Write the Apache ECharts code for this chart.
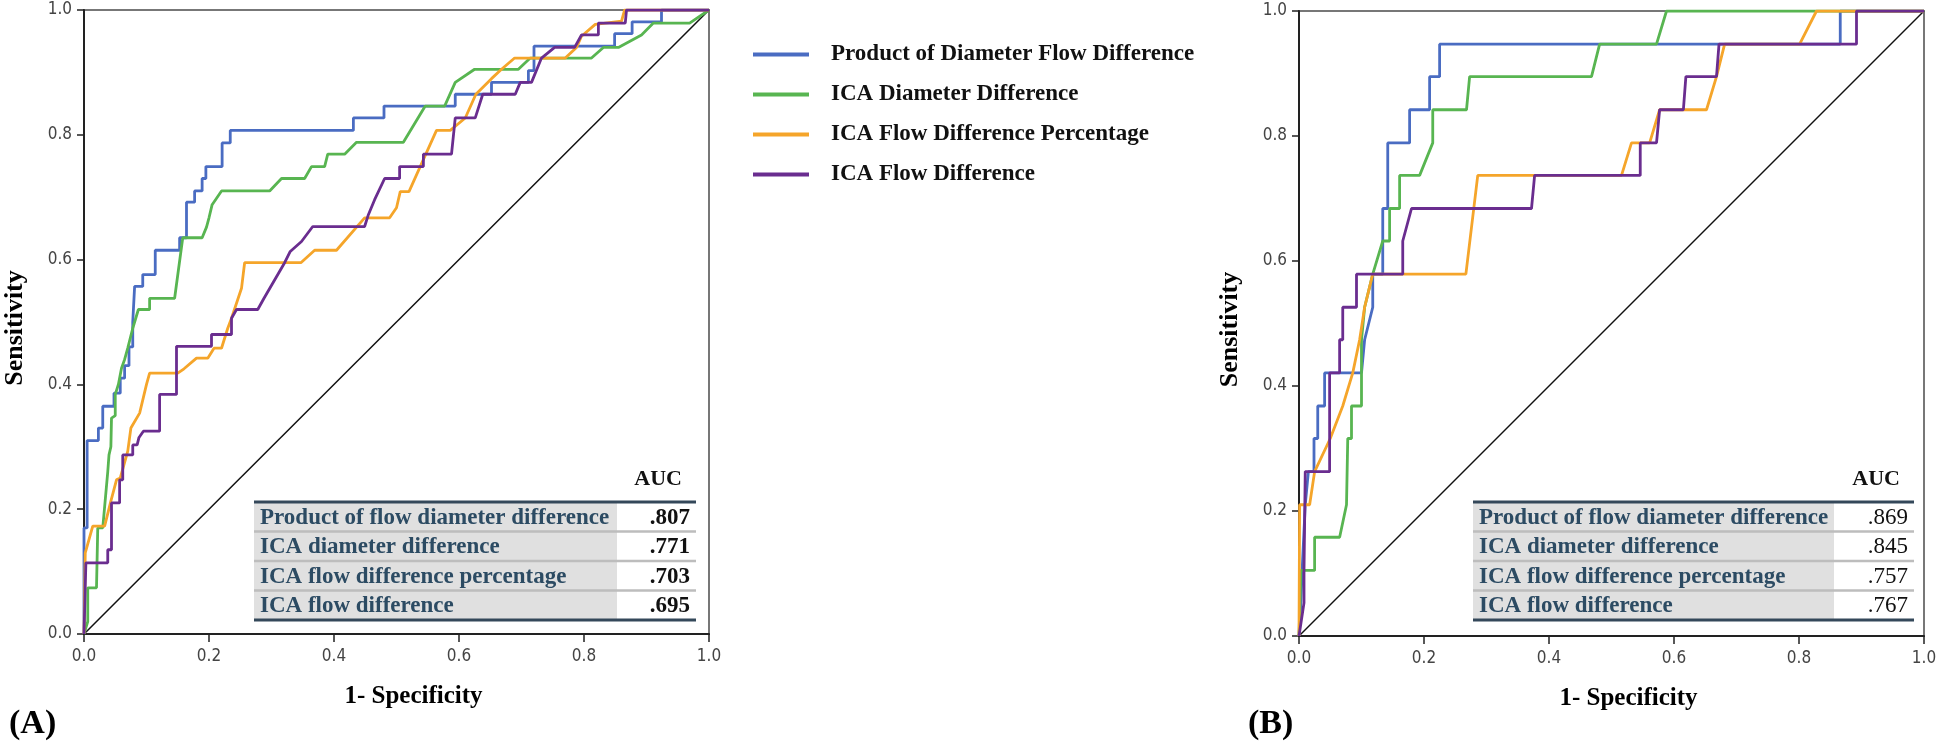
<!DOCTYPE html>
<html>
<head>
<meta charset="utf-8">
<script src="https://cdn.jsdelivr.net/npm/echarts@6/dist/echarts.min.js"></script>
<style>
html,body{margin:0;padding:0;background:#fff;}
#chart{width:1946px;height:751px;}
</style>
</head>
<body>
<div id="chart"></div>
<script>
// ---------- DATA ----------
const seriesNames = [
  'Product of Diameter Flow Difference',
  'ICA Diameter Difference',
  'ICA Flow Difference Percentage',
  'ICA Flow Difference'
];
const xTicks = [0, 0.2, 0.4, 0.6, 0.8, 1.0];

// Panel A (x = 1-specificity, y = sensitivity)
const blueA = [[0,0],[0,0.17],[0.005,0.17],[0.005,0.31],[0.023,0.31],[0.023,0.33],[0.03,0.33],[0.03,0.365],[0.048,0.365],[0.048,0.386],[0.058,0.386],[0.058,0.41],[0.065,0.41],[0.065,0.43],[0.072,0.43],[0.072,0.46],[0.078,0.46],[0.078,0.5],[0.081,0.5],[0.081,0.557],[0.094,0.557],[0.094,0.576],[0.114,0.576],[0.114,0.615],[0.153,0.615],[0.153,0.635],[0.164,0.635],[0.164,0.692],[0.177,0.692],[0.177,0.71],[0.189,0.71],[0.189,0.73],[0.195,0.73],[0.195,0.749],[0.221,0.749],[0.221,0.787],[0.234,0.787],[0.234,0.807],[0.431,0.807],[0.431,0.827],[0.48,0.827],[0.48,0.846],[0.594,0.846],[0.594,0.865],[0.652,0.865],[0.652,0.884],[0.711,0.884],[0.711,0.903],[0.72,0.903],[0.72,0.942],[0.849,0.942],[0.849,0.962],[0.877,0.962],[0.877,0.981],[0.924,0.981],[0.924,1],[1,1]];
const greenA = [[0,0],[0.006,0.02],[0.006,0.074],[0.02,0.074],[0.022,0.17],[0.03,0.17],[0.038,0.26],[0.04,0.287],[0.043,0.3],[0.044,0.346],[0.05,0.35],[0.05,0.384],[0.055,0.4],[0.06,0.426],[0.065,0.44],[0.07,0.458],[0.078,0.49],[0.087,0.52],[0.105,0.52],[0.105,0.538],[0.145,0.538],[0.158,0.635],[0.189,0.635],[0.196,0.652],[0.2,0.667],[0.205,0.688],[0.22,0.71],[0.297,0.71],[0.316,0.73],[0.353,0.73],[0.364,0.749],[0.385,0.749],[0.39,0.769],[0.417,0.769],[0.436,0.788],[0.511,0.788],[0.546,0.846],[0.577,0.846],[0.594,0.884],[0.625,0.905],[0.695,0.905],[0.714,0.923],[0.812,0.923],[0.831,0.94],[0.855,0.94],[0.892,0.96],[0.911,0.979],[0.969,0.979],[1,1]];
const orangeA = [[0,0],[0.002,0.13],[0.014,0.173],[0.033,0.173],[0.043,0.213],[0.052,0.247],[0.058,0.25],[0.07,0.293],[0.075,0.33],[0.089,0.354],[0.1,0.4],[0.105,0.418],[0.15,0.418],[0.16,0.425],[0.18,0.442],[0.198,0.442],[0.208,0.458],[0.22,0.458],[0.23,0.49],[0.236,0.506],[0.252,0.554],[0.257,0.595],[0.347,0.595],[0.369,0.615],[0.404,0.615],[0.449,0.667],[0.489,0.667],[0.5,0.683],[0.506,0.709],[0.52,0.709],[0.546,0.767],[0.564,0.807],[0.586,0.807],[0.61,0.827],[0.627,0.865],[0.652,0.89],[0.668,0.905],[0.689,0.923],[0.77,0.923],[0.788,0.94],[0.796,0.958],[0.818,0.977],[0.86,0.982],[0.865,1],[1,1]];
const purpleA = [[0,0],[0.003,0.114],[0.038,0.114],[0.038,0.135],[0.044,0.135],[0.044,0.21],[0.057,0.21],[0.057,0.247],[0.062,0.247],[0.062,0.287],[0.078,0.287],[0.078,0.303],[0.085,0.303],[0.088,0.315],[0.095,0.325],[0.121,0.325],[0.121,0.384],[0.148,0.384],[0.148,0.461],[0.204,0.461],[0.204,0.48],[0.236,0.48],[0.236,0.506],[0.244,0.52],[0.278,0.52],[0.288,0.538],[0.321,0.595],[0.33,0.613],[0.348,0.629],[0.366,0.653],[0.449,0.653],[0.455,0.672],[0.465,0.696],[0.481,0.73],[0.505,0.73],[0.505,0.749],[0.543,0.749],[0.543,0.769],[0.588,0.769],[0.594,0.827],[0.626,0.827],[0.638,0.865],[0.69,0.865],[0.698,0.884],[0.716,0.884],[0.732,0.923],[0.753,0.94],[0.785,0.94],[0.796,0.96],[0.823,0.96],[0.823,0.979],[0.866,0.979],[0.868,1],[1,1]];

// Panel B
const blueB = [[0,0],[0.003,0.053],[0.005,0.105],[0.01,0.21],[0.015,0.263],[0.024,0.263],[0.024,0.316],[0.03,0.316],[0.03,0.368],[0.041,0.368],[0.041,0.421],[0.1,0.421],[0.105,0.474],[0.118,0.526],[0.118,0.579],[0.134,0.579],[0.134,0.684],[0.142,0.684],[0.142,0.789],[0.177,0.789],[0.177,0.842],[0.209,0.842],[0.209,0.895],[0.225,0.895],[0.225,0.947],[0.866,0.947],[0.866,1],[1,1]];
const greenB = [[0,0],[0.003,0.105],[0.025,0.105],[0.025,0.158],[0.065,0.158],[0.076,0.21],[0.078,0.21],[0.078,0.316],[0.084,0.316],[0.084,0.368],[0.1,0.368],[0.1,0.474],[0.105,0.526],[0.118,0.579],[0.134,0.632],[0.145,0.632],[0.145,0.684],[0.161,0.684],[0.161,0.737],[0.193,0.737],[0.214,0.789],[0.214,0.842],[0.268,0.842],[0.273,0.895],[0.468,0.895],[0.481,0.947],[0.572,0.947],[0.588,1],[1,1]];
const orangeB = [[0,0],[0.001,0.21],[0.017,0.21],[0.025,0.263],[0.05,0.316],[0.07,0.368],[0.086,0.421],[0.097,0.474],[0.105,0.526],[0.118,0.579],[0.267,0.579],[0.286,0.737],[0.516,0.737],[0.532,0.789],[0.561,0.789],[0.577,0.842],[0.652,0.842],[0.668,0.895],[0.681,0.947],[0.801,0.947],[0.828,1],[1,1]];
const purpleB = [[0,0],[0.008,0.053],[0.008,0.105],[0.01,0.263],[0.049,0.263],[0.049,0.421],[0.065,0.421],[0.065,0.474],[0.07,0.474],[0.07,0.526],[0.092,0.526],[0.092,0.579],[0.166,0.579],[0.166,0.632],[0.18,0.684],[0.372,0.684],[0.377,0.737],[0.546,0.737],[0.546,0.789],[0.572,0.789],[0.577,0.842],[0.615,0.842],[0.619,0.895],[0.668,0.895],[0.672,0.947],[0.892,0.947],[0.892,1],[1,1]];

const diagonal = [[0,0],[1,1]];

const tableLabels = [
  'Product of flow diameter difference',
  'ICA diameter difference',
  'ICA flow difference percentage',
  'ICA flow difference'
];
const aucA = ['.807', '.771', '.703', '.695'];
const aucB = ['.869', '.845', '.757', '.767'];

// ---------- STYLE ----------
const colors = ['#4a6cc2', '#58b551', '#f5a52a', '#6a2d8f'];
const SERIF = '"Liberation Serif","Times New Roman",serif';
const TICKFONT = '"DejaVu Sans Condensed","DejaVu Sans",sans-serif';

const grids = [
  {left: 84, top: 10, width: 625, height: 624},
  {left: 1299, top: 11, width: 625, height: 625}
];

function makeAxes(gi) {
  const x = {
    type: 'value', gridIndex: gi, min: 0, max: 1, interval: 0.2,
    name: '1- Specificity', nameLocation: 'middle', nameGap: 50,
    nameTextStyle: {fontFamily: SERIF, fontWeight: 'bold', fontSize: 25, color: '#000', padding: [0, 0, 0, 34]},
    axisLine: {lineStyle: {color: '#222', width: 2}},
    axisTick: {show: true, inside: false, length: 8, lineStyle: {color: '#222', width: 1.5}},
    axisLabel: {margin: 14, fontFamily: TICKFONT, fontSize: 17, color: '#444', formatter: v => v.toFixed(1)},
    splitLine: {show: false}
  };
  const y = {
    type: 'value', gridIndex: gi, min: 0, max: 1, interval: 0.2,
    name: 'Sensitivity', nameLocation: 'middle', nameGap: 56, nameRotate: 90,
    nameTextStyle: {fontFamily: SERIF, fontWeight: 'bold', fontSize: 26, color: '#000', padding: [0, 12, 0, 0]},
    axisLine: {lineStyle: {color: '#222', width: 2}},
    axisTick: {show: true, inside: false, length: 7, lineStyle: {color: '#222', width: 1.5}},
    axisLabel: {margin: 12, fontFamily: TICKFONT, fontSize: 17, color: '#444', formatter: v => v.toFixed(1)},
    splitLine: {show: false}
  };
  return {x, y};
}
const axA = makeAxes(0), axB = makeAxes(1);

function curve(name, data, color, gi) {
  return {
    name, type: 'line', data, xAxisIndex: gi, yAxisIndex: gi,
    showSymbol: false, symbol: 'none', animation: false,
    lineStyle: {color, width: 2.8}, itemStyle: {color}, z: 3
  };
}
function diagSeries(gi) {
  return {
    name: 'ref', type: 'line', data: diagonal, xAxisIndex: gi, yAxisIndex: gi,
    showSymbol: false, symbol: 'none', animation: false, silent: true,
    lineStyle: {color: '#111', width: 1.5}, z: 2
  };
}

const seriesList = [
  diagSeries(0), diagSeries(1),
  curve(seriesNames[0], blueA, colors[0], 0),
  curve(seriesNames[1], greenA, colors[1], 0),
  curve(seriesNames[2], orangeA, colors[2], 0),
  curve(seriesNames[3], purpleA, colors[3], 0),
  curve(seriesNames[0], blueB, colors[0], 1),
  curve(seriesNames[1], greenB, colors[1], 1),
  curve(seriesNames[2], orangeB, colors[2], 1),
  curve(seriesNames[3], purpleB, colors[3], 1)
];

// ---------- AUC TABLES (graphic annotations) ----------
function buildTable(x0, xSplit, x1, values, valueWeight) {
  const top = 502, rowH = 29.5, els = [];
  const n = tableLabels.length;
  els.push({type: 'text', x: x1 - 14, y: top - 23,
    style: {text: 'AUC', font: 'bold 22px ' + SERIF, fill: '#111', textAlign: 'right', textVerticalAlign: 'middle'}});
  for (let i = 0; i < n; i++) {
    const ry = top + i * rowH;
    els.push({type: 'rect', shape: {x: x0, y: ry, width: xSplit - x0, height: rowH}, style: {fill: '#e0e0e0'}});
    els.push({type: 'rect', shape: {x: xSplit, y: ry, width: x1 - xSplit, height: rowH}, style: {fill: '#ffffff'}});
    els.push({type: 'text', x: x0 + 6, y: ry + rowH / 2 + 1,
      style: {text: tableLabels[i], font: 'bold 23px ' + SERIF, fill: '#2c4b63', textVerticalAlign: 'middle'}});
    els.push({type: 'text', x: x1 - 6, y: ry + rowH / 2 + 1,
      style: {text: values[i], font: valueWeight + ' 23px ' + SERIF, fill: '#111', textAlign: 'right', textVerticalAlign: 'middle'}});
    if (i > 0) {
      els.push({type: 'line', shape: {x1: x0, y1: ry, x2: x1, y2: ry}, style: {stroke: '#bdbdbd', lineWidth: 2.5}});
    }
  }
  els.push({type: 'line', shape: {x1: x0, y1: top, x2: x1, y2: top}, style: {stroke: '#34485a', lineWidth: 3}});
  els.push({type: 'line', shape: {x1: x0, y1: top + n * rowH, x2: x1, y2: top + n * rowH}, style: {stroke: '#34485a', lineWidth: 3}});
  return els;
}

const chart = echarts.init(document.getElementById('chart'), null, {renderer: 'canvas'});
chart.setOption({
  backgroundColor: '#fff',
  animation: false,
  title: [
    {text: '(A)', left: 4, top: 702, textStyle: {fontFamily: SERIF, fontWeight: 'bold', fontSize: 34, color: '#000'}},
    {text: '(B)', left: 1243, top: 702, textStyle: {fontFamily: SERIF, fontWeight: 'bold', fontSize: 34, color: '#000'}}
  ],
  legend: {
    data: seriesNames, orient: 'vertical', left: 748, top: 38,
    icon: 'rect', itemWidth: 56, itemHeight: 4, itemGap: 17,
    textStyle: {fontFamily: SERIF, fontWeight: 'bold', fontSize: 23, color: '#111', padding: [0, 0, 0, 17]},
    selectedMode: false
  },
  grid: grids.map(g => Object.assign({show: true, borderColor: '#777', borderWidth: 2, backgroundColor: 'transparent'}, g)),
  xAxis: [axA.x, axB.x],
  yAxis: [axA.y, axB.y],
  series: seriesList,
  graphic: [].concat(
    buildTable(254, 617, 696, aucA, 'bold'),
    buildTable(1473, 1834, 1914, aucB, 'normal')
  )
});
</script>
</body>
</html>
